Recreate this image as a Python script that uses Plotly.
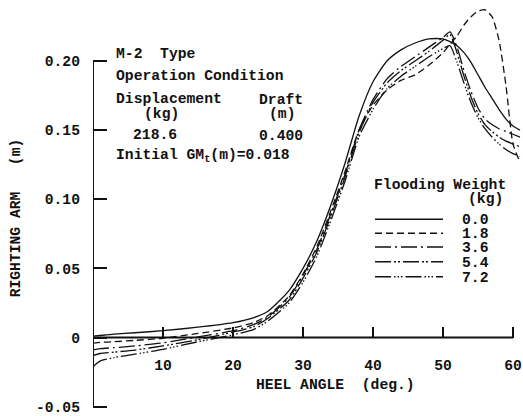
import plotly.graph_objects as go

# Heel angle (deg.) sampled for every flooding condition
heel_angle = [0, 1, 3, 6, 10, 15, 20, 23, 25, 28, 30, 32, 34, 36, 38, 40, 42, 44,
              46, 48, 50, 51, 52, 53, 54, 55, 56, 57, 58, 59, 60, 61]

# Righting arm (m) for each flooding weight (kg)
arm_0_0 = [0.001, 0.0015, 0.0025, 0.0035, 0.005, 0.0075, 0.0108, 0.0145, 0.019, 0.034,
           0.050, 0.070, 0.096, 0.126, 0.160, 0.185, 0.200, 0.208, 0.213, 0.216, 0.216,
           0.214, 0.211, 0.206, 0.199, 0.190, 0.181, 0.173, 0.165, 0.158, 0.153, 0.150]
arm_1_8 = [-0.004, -0.0035, -0.003, -0.002, -0.0005, 0.003, 0.007, 0.011, 0.016, 0.030,
           0.046, 0.066, 0.092, 0.120, 0.150, 0.168, 0.179, 0.186, 0.190, 0.197, 0.206,
           0.212, 0.218, 0.226, 0.232, 0.236, 0.237, 0.232, 0.215, 0.182, 0.140, 0.127]
arm_3_6 = [-0.009, -0.008, -0.0073, -0.006, -0.0038, 0.0005, 0.005, 0.0095, 0.015, 0.029,
           0.045, 0.064, 0.090, 0.118, 0.150, 0.172, 0.187, 0.196, 0.203, 0.210, 0.217,
           0.221, 0.210, 0.193, 0.178, 0.166, 0.158, 0.154, 0.151, 0.149, 0.147, 0.145]
arm_5_4 = [-0.013, -0.0115, -0.0105, -0.009, -0.006, -0.0015, 0.004, 0.008, 0.014, 0.027,
           0.043, 0.062, 0.088, 0.116, 0.148, 0.170, 0.184, 0.193, 0.200, 0.207, 0.215,
           0.219, 0.206, 0.189, 0.174, 0.162, 0.154, 0.149, 0.145, 0.142, 0.140, 0.138]
arm_7_2 = [-0.021, -0.017, -0.0145, -0.012, -0.0085, -0.003, 0.002, 0.006, 0.012, 0.025,
           0.040, 0.059, 0.085, 0.113, 0.145, 0.165, 0.180, 0.189, 0.196, 0.203, 0.209,
           0.211, 0.199, 0.184, 0.170, 0.159, 0.151, 0.145, 0.140, 0.136, 0.133, 0.131]

flooding_labels = ["0.0", "1.8", "3.6", "5.4", "7.2"]
series = [arm_0_0, arm_1_8, arm_3_6, arm_5_4, arm_7_2]
dashes = ["solid", "7px,4px", "16px,4px,2px,4px",
          "16px,3px,2px,2px,2px,3px", "16px,3px,1.5px,2px,1.5px,2px,1.5px,3px"]

x_ticks = [10, 20, 30, 40, 50, 60]
y_ticks = [-0.05, 0, 0.05, 0.10, 0.15, 0.20]
y_tick_text = ["-0.05", "0", "0.05", "0.10", "0.15", "0.20"]

W, H = 523, 416
L, R, T, B = 93, 0, 0, 0
PX_PER_DEG = 7.0
PX_PER_M = 1400.0
Y_ZERO_PX = 341.7
x_range = [0, (W - L) / PX_PER_DEG]
y_range = [(Y_ZERO_PX - H) / PX_PER_M, Y_ZERO_PX / PX_PER_M]

FONT = "Liberation Mono"
FS = 14.7
INK = "#111111"


def px_x(p):
    return (p - L) / (W - L - R)


def px_y(p):
    return 1 - (p - T) / (H - T - B)


fig = go.Figure()
for label, vals, dash in zip(flooding_labels, series, dashes):
    fig.add_trace(go.Scatter(
        x=heel_angle, y=vals, mode="lines", name=label,
        line=dict(color=INK, width=1.3, dash=dash, shape="spline", smoothing=0.6),
        showlegend=False, hoverinfo="skip",
    ))

shapes = [
    # axis lines
    dict(type="line", xref="x", yref="y", x0=0, x1=0, y0=-0.05, y1=0.20,
         line=dict(color=INK, width=2)),
    dict(type="line", xref="x", yref="y", x0=0, x1=60, y0=0, y1=0,
         line=dict(color=INK, width=2)),
    # foot of the vertical axis
    dict(type="line", xref="x", yref="y", x0=0, x1=12 / PX_PER_DEG, y0=-0.05, y1=-0.05,
         line=dict(color=INK, width=1.5)),
]

annotations = []


def text(s, px, py, anchor="left", size=FS, angle=0):
    annotations.append(dict(
        text=s, xref="paper", yref="paper", x=px_x(px), y=px_y(py),
        xanchor=anchor, yanchor="middle", showarrow=False, textangle=angle,
        font=dict(family=FONT, size=size, color=INK, weight="bold"),
    ))


# condition block
text("M-2\u00a0\u00a0Type", 114, 55)
text("Operation Condition", 114, 77)
text("Displacement", 114, 100)
text("Draft", 257, 101)
text("(kg)", 142, 115)
text("(m)", 267, 115)
text("218.6", 131, 137)
text("0.400", 257, 138)
text("Initial GM<sub>t</sub>(m)=0.018", 114, 158)

# axis titles
text("HEEL\u00a0ANGLE\u00a0\u00a0(deg.)", 254, 390)
text("RIGHTING\u00a0ARM\u00a0\u00a0\u00a0(m)", 16, 221, anchor="center", angle=-90)

# flooding weight key
text("Flooding Weight", 372, 187)
text("(kg)", 466, 201)
key_rows = [222, 236, 250, 265, 280]
for label, dash, row in zip(flooding_labels, dashes, key_rows):
    shapes.append(dict(type="line", xref="paper", yref="paper",
                       x0=px_x(375), x1=px_x(443), y0=px_y(row), y1=px_y(row),
                       line=dict(color=INK, width=1.5, dash=dash)))
    text(label, 460, row + 1)

fig.update_layout(
    width=W, height=H,
    margin=dict(l=L, r=R, t=T, b=B, pad=0),
    paper_bgcolor="white", plot_bgcolor="white",
    shapes=shapes, annotations=annotations,
    xaxis=dict(range=x_range, anchor="free",
               position=(0 - y_range[0]) / (y_range[1] - y_range[0]),
               tickvals=x_ticks, ticktext=[str(v) for v in x_ticks],
               ticks="inside", ticklen=11, tickwidth=1.5, tickcolor=INK,
               showline=False, showgrid=False, zeroline=False,
               ticklabelstandoff=17,
               tickfont=dict(family=FONT, size=FS, color=INK, weight="bold")),
    yaxis=dict(range=y_range, tickvals=y_ticks, ticktext=y_tick_text,
               ticks="inside", ticklen=14, tickwidth=1.5, tickcolor=INK,
               showline=False, showgrid=False, zeroline=False,
               ticklabelstandoff=12, ticklabeloverflow="allow",
               tickfont=dict(family=FONT, size=FS, color=INK, weight="bold")),
)

fig.write_html("out.html")
